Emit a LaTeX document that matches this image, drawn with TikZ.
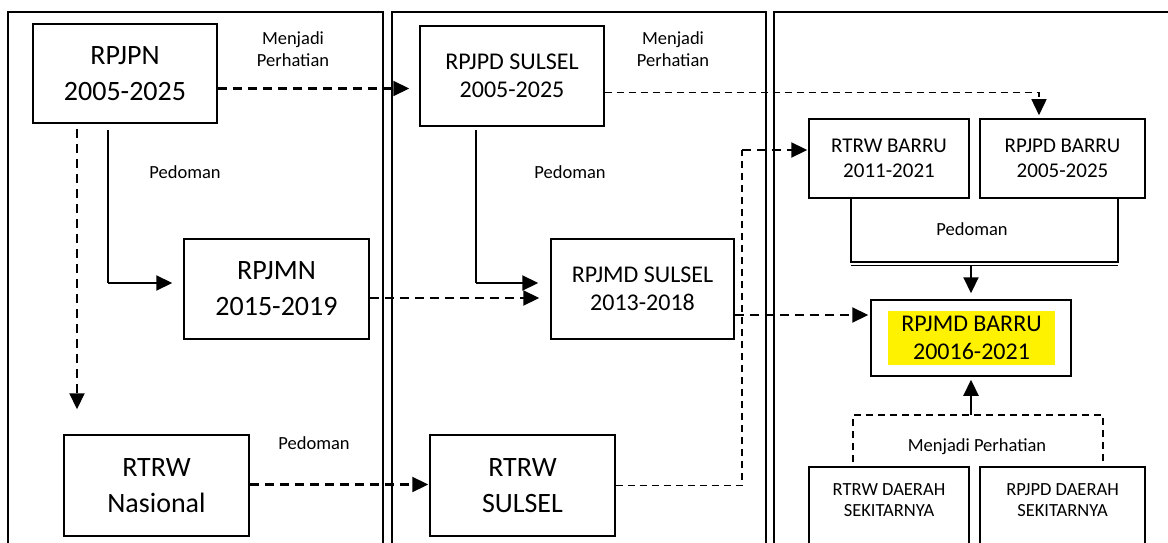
\documentclass[tikz,border=0pt]{standalone}
\usepackage{fontspec}
\setmainfont{Carlito}
\usetikzlibrary{arrows.meta}

\begin{document}
\begin{tikzpicture}[x=1pt,y=1pt,
	box/.style={draw,line width=1.5pt,align=center,inner sep=0pt},
	panel/.style={line width=1.5pt},
	bigtxt/.style={font=\fontsize{28}{36}\selectfont},
	midtxt/.style={font=\fontsize{24}{28}\selectfont},
	barrutxt/.style={font=\fontsize{21}{25}\selectfont},
	smalltxt/.style={font=\fontsize{18.5}{21.5}\selectfont,align=center,inner sep=0pt},
	tip/.style={-{Triangle[length=16pt,width=15pt]}},
	thickdash/.style={line width=2.2pt,dash pattern=on 9pt off 6pt},
	thindash/.style={line width=1.4pt,dash pattern=on 7pt off 5pt},
	thinline/.style={line width=1.4pt},
	thickline/.style={line width=2.2pt}]
				\useasboundingbox (0,0) rectangle (1168,-543);
				\draw[panel] (8,-560) |- (383,-12) -- (383,-560);
				\draw[panel] (392,-560) |- (766,-12) -- (766,-560);
				\draw[panel] (774,-560) |- (1190,-12);
				\node[box,bigtxt,minimum width=184pt,minimum height=99pt] (rpjpn) at (125,-73.5) {RPJPN\\2005-2025};
				\node[box,bigtxt,minimum width=185pt,minimum height=100pt] (rpjmn) at (276.5,-289) {RPJMN\\2015-2019};
				\node[box,bigtxt,minimum width=185pt,minimum height=101pt] (rtrwnas) at (156.5,-485.5) {RTRW\\Nasional};
				\node[box,midtxt,minimum width=184pt,minimum height=100pt] (rpjpdsul) at (512,-76) {RPJPD SULSEL\\2005-2025};
				\node[box,midtxt,minimum width=183pt,minimum height=100pt] (rpjmdsul) at (642.5,-289) {RPJMD SULSEL\\2013-2018};
				\node[box,bigtxt,minimum width=185pt,minimum height=101pt] (rtrwsul) at (522.5,-485.5) {RTRW\\SULSEL};
				\node[box,barrutxt,minimum width=160pt,minimum height=79pt] (rtrwbarru) at (889,-158.5) {RTRW BARRU\\2011-2021};
				\node[box,barrutxt,minimum width=165pt,minimum height=79pt] (rpjpdbarru) at (1062.5,-158.5) {RPJPD BARRU\\2005-2025};
				\node[box,minimum width=200pt,minimum height=76pt] (rpjmdbarru) at (971,-338) {};
				\node[midtxt,fill=yellow,align=center,inner sep=0pt,minimum width=167pt,minimum height=54pt] (rpjmdbarrutxt) at (971.5,-338) {RPJMD BARRU\\20016-2021};
				\node[box,minimum width=160pt,minimum height=100pt,anchor=north] (rtrwsek) at (889,-466) {};
				\node[smalltxt] (rtrwsektxt) at (889,-500) {RTRW DAERAH\\SEKITARNYA};
				\node[box,minimum width=165pt,minimum height=100pt,anchor=north] (rpjpdsek) at (1062.5,-466) {};
				\node[smalltxt] (rpjpdsektxt) at (1062.5,-500) {RPJPD DAERAH\\SEKITARNYA};
				\node[smalltxt] (lblmp1) at (293,-49) {Menjadi\\Perhatian};
				\node[smalltxt] (lblmp2) at (673,-49) {Menjadi\\Perhatian};
				\node[smalltxt] (lblmp3) at (977,-447) {Menjadi Perhatian};
				\node[smalltxt] (lblped1) at (185,-172) {Pedoman};
				\node[smalltxt] (lblped2) at (570,-172) {Pedoman};
				\node[smalltxt] (lblped3) at (972,-229) {Pedoman};
				\node[smalltxt] (lblped4) at (314,-443) {Pedoman};
				\coordinate (pedN) at (108,-283);
				\coordinate (pedS) at (476,-283);
				\coordinate (sulB) at (742,-150);
				\coordinate (pedL) at (851,-262);
				\coordinate (pedR) at (1118,-262);
				\coordinate (mpL) at (853,-415);
				\coordinate (mpR) at (1103,-415);
				\draw[thickdash,tip,shorten >=10pt] ([yshift=-15pt]rpjpn.east) -- ([yshift=-12.5pt]rpjpdsul.west);
				\draw[thindash,tip,shorten >=3pt] ([yshift=-16.5pt]rpjpdsul.east) -| ([xshift=-23.5pt]rpjpdbarru.north);
				\draw[thickdash,tip,shorten <=5pt,shorten >=25pt] ([xshift=-48pt]rpjpn.south) -- ([xshift=-79.5pt]rtrwnas.north);
				\draw[thinline,shorten <=6pt] ([xshift=-17pt]rpjpn.south) -- (pedN);
				\draw[thickline,tip,shorten >=11pt] (pedN) -- ([yshift=6pt]rpjmn.west);
				\draw[thickdash,tip,shorten >=11pt] ([yshift=-9pt]rpjmn.east) -- ([yshift=-9pt]rpjmdsul.west);
				\draw[thinline,shorten <=3pt] ([xshift=-36pt]rpjpdsul.south) -- (pedS);
				\draw[thickline,tip,shorten >=12pt] (pedS) -- ([yshift=6pt]rpjmdsul.west);
				\draw[thickdash,tip,shorten >=1pt] ([yshift=1pt]rtrwnas.east) -- ([yshift=1pt]rtrwsul.west);
				\draw[thindash] (rtrwsul.east) -| (sulB);
				\draw[thickdash,tip,shorten >=1pt] (sulB) -- ([yshift=8.5pt]rtrwbarru.west);
				\draw[thickdash,tip,shorten >=2pt] ([yshift=-26pt]rpjmdsul.east) -- ([yshift=23pt]rpjmdbarru.west);
				\draw[thinline] ([xshift=-38pt]rtrwbarru.south) -- (pedL) -- (pedR) -- ([xshift=55.5pt]rpjpdbarru.south);
				\draw[thinline] ([yshift=-3.5pt]pedL) -- ([yshift=-3.5pt]pedR);
				\draw[thickline,tip,shorten <=3.5pt,shorten >=6pt] (pedL -| rpjmdbarru.north) -- (rpjmdbarru.north);
				\draw[thindash,shorten <=4pt,shorten >=4pt] ([xshift=-36pt]rtrwsek.north) -- (mpL) -- (mpR) -- ([xshift=40.5pt]rpjpdsek.north);
				\draw[thickline,tip,shorten >=3pt] (mpL -| rpjmdbarru.south) -- (rpjmdbarru.south);
\end{tikzpicture}
\end{document}
